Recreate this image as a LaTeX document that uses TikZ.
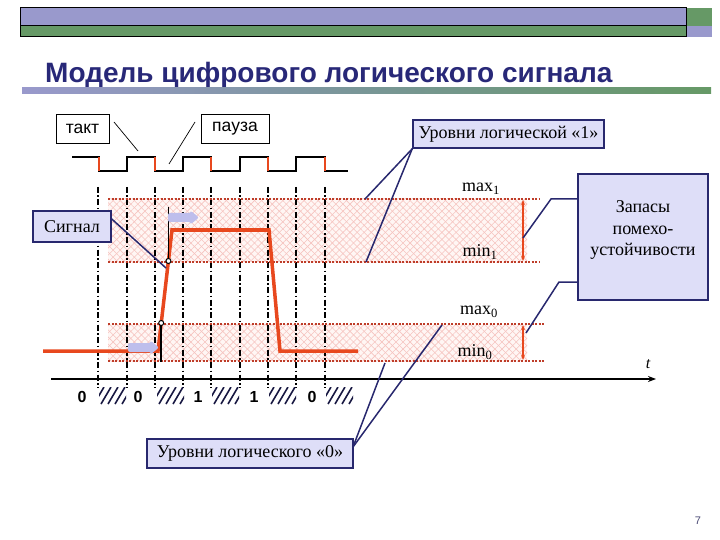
\documentclass[tikz,border=0pt]{standalone}
\usepackage{fontspec}
\setmainfont{Liberation Serif}
\setsansfont{Liberation Sans}
\usetikzlibrary{patterns,patterns.meta,arrows.meta}
\definecolor{lav}{RGB}{153,153,204}
\definecolor{grn}{RGB}{102,153,102}
\definecolor{navy}{RGB}{40,40,110}
\definecolor{titlec}{RGB}{40,40,120}
\definecolor{boxfill}{RGB}{222,222,248}
\definecolor{arrfill}{RGB}{190,190,236}
\definecolor{sigred}{RGB}{232,72,30}
\definecolor{dotred}{RGB}{190,60,40}
\definecolor{bandbg}{RGB}{255,246,244}
\definecolor{bandln}{RGB}{246,196,192}
\begin{document}
\begin{tikzpicture}[x=1pt,y=-1pt,
  lbox/.style={draw=navy, line width=1.5pt, fill=boxfill, inner sep=2pt, font=\fontsize{18}{21}\selectfont},
  wbox/.style={draw=black, line width=0.6pt, fill=white, inner sep=2pt, font=\sffamily\fontsize{17.5}{20}\selectfont},
  conn/.style={draw=navy, line width=1.5pt},
  thin/.style={draw=black, line width=0.7pt},
  vdash/.style={draw=black, line width=1.3pt, dash pattern=on 6pt off 2.5pt on 1.5pt off 2.5pt},
  lvl/.style={draw=dotred, line width=1.2pt, dash pattern=on 2pt off 1.5pt},
  sig/.style={draw=sigred, line width=3.5pt, line join=miter},
  lbl/.style={font=\fontsize{18}{20}\selectfont, inner sep=0pt},
  dig/.style={font=\sffamily\bfseries\fontsize{16}{18}\selectfont, inner sep=0pt},
  band/.style={fill=bandbg, postaction={pattern={Lines[angle=45,distance=5pt,line width=0.6pt]}, pattern color=bandln}, postaction={pattern={Lines[angle=-45,distance=5pt,line width=0.6pt]}, pattern color=bandln}},
  mk/.style={circle, draw=black, fill=white, line width=1pt, inner sep=0pt, minimum size=5pt}]
\useasboundingbox (0,0) rectangle (720,540);
% header bars
\fill[lav] (20,8) rectangle (686,26);
\fill[grn] (20,26) rectangle (686,37);
\draw[line width=1pt] (20,8) rectangle (686,37);
\draw[line width=1pt] (20,26) -- (686,26);
\fill[grn] (687,8) rectangle (712,26);
\fill[lav] (687,26) rectangle (712,37);
\node[anchor=base west, inner sep=0pt, text=titlec, font=\sffamily\bfseries\fontsize{28}{30}\selectfont] (title) at (45,83) {Модель цифрового логического сигнала};
\shade[left color=lav, right color=grn, middle color={rgb,255:red,120;green,150;blue,150}] (22,88) rectangle (711,94);
% bands
\path[band] (108,199) rectangle (527,262);
\path[band] (108,324) rectangle (527,361);
% vertical dash-dot lines
\foreach \x in {98,127,155,183,211,240,268,296,325}
  \draw[vdash] (\x,187) -- (\x,388);
% level lines
\draw[lvl] (108,199) -- (540,199);
\draw[lvl] (108,262) -- (540,262);
\draw[lvl] (108,324) -- (545,324);
\draw[lvl] (108,361) -- (545,361);
% red margin arrows
\draw[sigred, line width=1.3pt, {Stealth[length=5pt,width=4pt]}-{Stealth[length=5pt,width=4pt]}] (523,200) -- (523,261);
\draw[sigred, line width=1.3pt, {Stealth[length=5pt,width=4pt]}-{Stealth[length=5pt,width=4pt]}] (523,325) -- (523,360);
% level labels
\node[lbl] (mx1) at (481,189) {max\textsubscript{1}};
\node[lbl] (mn1) at (480,252) {min\textsubscript{1}};
\node[lbl] (mx0) at (479,312) {max\textsubscript{0}};
\node[lbl] (mn0) at (475,352) {min\textsubscript{0}};
% clock
\draw[line width=1.5pt] (72,157) -- (99,157) -- (99,171) -- (127,171) -- (127,157) -- (155,157) -- (155,171) -- (183,171) -- (183,157) -- (211,157) -- (211,171) -- (240,171) -- (240,157) -- (268,157) -- (268,171) -- (296,171) -- (296,157) -- (325,157) -- (325,171) -- (348,171);
\foreach \x in {99,155,211,268,325}
  \draw[sigred, line width=1.5pt] (\x,157) -- (\x,171);
\node[wbox, minimum width=53pt, minimum height=29pt] (takt) at (82.5,128.5) {\raisebox{-1pt}{такт}};
\node[wbox, minimum width=68pt, minimum height=29pt] (pauza) at (235,128.5) {\raisebox{-1pt}{пауза}};
\coordinate (tk1) at (114,122);
\coordinate (tk2) at (138,151);
\coordinate (pz1) at (195,122);
\coordinate (pz2) at (169,164);
\draw[thin] (tk1) -- (tk2);
\draw[thin] (pz1) -- (pz2);
% time axis
\draw[line width=1.5pt, -{Stealth[length=8pt,width=6pt]}] (51,379) -- (656,379);
\node[font=\itshape\fontsize{16}{18}\selectfont, inner sep=0pt] (t) at (648,364) {t};
% digits and hatches
\node[dig] (d1) at (82,397) {0};
\node[dig] (d2) at (138,397) {0};
\node[dig] (d3) at (198,397) {1};
\node[dig] (d4) at (254,397) {1};
\node[dig] (d5) at (312,397) {0};
\foreach \x in {99,157,212,269,326}{
  \begin{scope}
    \clip (\x,387) rectangle (\x+27,404);
    \foreach \k in {0,7,...,42}
      \draw[line width=1.6pt, navy!60!black] (\x-12+\k,404) -- (\x-2+\k,387);
  \end{scope}
}
% signal
\draw[sig] (43,351) -- (158,351) -- (172,230) -- (269,230) -- (280,351) -- (358,351);
\draw[line width=1pt] (168,207) -- (168,261);
\draw[line width=2.5pt] (161,323) -- (161,362);
\node[mk] (c1) at (168.4,261) {};
\node[mk] (c2) at (161.2,323) {};
% block arrows
\fill[arrfill, rounded corners=2pt] (168,213) -- (191,213) -- (191,211) -- (199,217.5) -- (191,224) -- (191,222) -- (168,222) -- cycle;
\fill[arrfill, rounded corners=2pt] (128,343) -- (151,343) -- (151,341) -- (159,347.5) -- (151,354) -- (151,352) -- (128,352) -- cycle;
% boxes
\node[lbox, minimum width=78pt, minimum height=31pt] (sgn) at (72,226.5) {Сигнал};
\coordinate (sg2) at (166,268);
\draw[conn] (sgn.east |- 0,219) -- (sg2);
\node[lbox, minimum width=191pt, minimum height=28pt] (l1) at (508.5,134) {Уровни логической «1»};
\coordinate (l1a) at (365,199);
\coordinate (l1b) at (366,262);
\draw[conn] (l1.south west) -- (l1a);
\draw[conn] (l1.south west) -- (l1b);
\node[lbox, minimum width=130pt, minimum height=126pt] (zp) at (643,237) {};
\node[font=\fontsize{18}{21.5}\selectfont, align=center, inner sep=0pt] (zpt) at (643,230) {Запасы\\помехо-\\устойчивости};
\coordinate (z1a) at (551,199);
\coordinate (z1b) at (523,238);
\coordinate (z2a) at (559,282);
\coordinate (z2b) at (526,333);
\draw[conn] (zp.west |- 0,199) -- (z1a) -- (z1b);
\draw[conn] (zp.west |- 0,282) -- (z2a) -- (z2b);
\node[lbox, minimum width=206pt, minimum height=29pt] (l0) at (250,453.5) {Уровни логического «0»};
\coordinate (l0s) at (353,447);
\coordinate (l0a) at (442,325);
\coordinate (l0b) at (385,363);
\draw[conn] (l0s) -- (l0a);
\draw[conn] (l0s) -- (l0b);
% page number
\node[font=\sffamily\fontsize{11}{13}\selectfont, text=navy!60!gray, inner sep=0pt] (pg) at (698,521) {7};
\end{tikzpicture}
\end{document}
